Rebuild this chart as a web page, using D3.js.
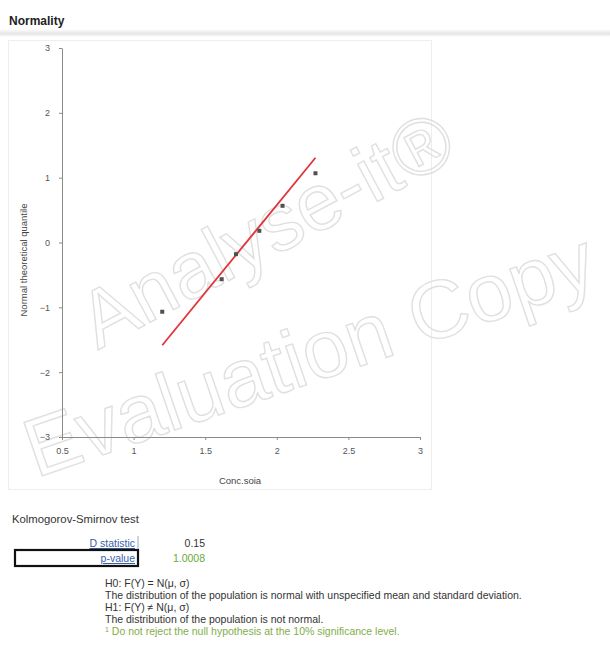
<!DOCTYPE html>
<html><head><meta charset="utf-8">
<script src="https://cdn.jsdelivr.net/npm/d3@7"></script>
<style>
body{margin:0;background:#fff}
svg{display:block}
text{font-family:"Liberation Sans",Arial,sans-serif}
</style>
</head><body>
<script>
// Sample values (Conc.soia) and their normal theoretical quantiles
const concSoia = [1.20, 1.615, 1.715, 1.878, 2.04, 2.27];
const theoreticalQuantile = [-1.068, -0.566, -0.180, 0.180, 0.566, 1.068];
const xTicks = [0.5, 1, 1.5, 2, 2.5, 3];
const yTicks = [-3, -2, -1, 0, 1, 2, 3];

// Kolmogorov-Smirnov test table
const ksLabels = ["D statistic", "p-value"];
const ksValues = ["0.15", "1.0008"];
const hypothesisLines = [
  "H0: F(Y) = N(\u03bc, \u03c3)",
  "The distribution of the population is normal with unspecified mean and standard deviation.",
  "H1: F(Y) \u2260 N(\u03bc, \u03c3)",
  "The distribution of the population is not normal."
];
const footnote = "Do not reject the null hypothesis at the 10% significance level.";

const W = 610, H = 655;
const svg = d3.select("body").append("svg").attr("width", W).attr("height", H);

// Section heading with its shaded rule
const grad = svg.append("defs").append("linearGradient")
  .attr("id", "rule").attr("x1", 0).attr("x2", 0).attr("y1", 0).attr("y2", 1);
grad.append("stop").attr("offset", "0%").attr("stop-color", "#ffffff");
grad.append("stop").attr("offset", "60%").attr("stop-color", "#e4e4e4");
grad.append("stop").attr("offset", "100%").attr("stop-color", "#ffffff");
svg.append("rect").attr("x", 0).attr("y", 29).attr("width", W).attr("height", 8).attr("fill", "url(#rule)");
svg.append("text").attr("x", 9).attr("y", 25)
  .attr("font-size", 12).attr("font-weight", "bold").attr("fill", "#222").text("Normality");

// Chart frame
svg.append("rect").attr("x", 8.5).attr("y", 40.5).attr("width", 423).attr("height", 449)
  .attr("fill", "none").attr("stroke", "#eeeeee");

// Watermark outlines
const wm = svg.append("g").attr("fill", "none").attr("stroke", "#e0e0e0").attr("stroke-width", 1.4)
  .attr("font-family", "Liberation Sans, Arial, sans-serif");
wm.append("text").attr("transform", "translate(98,350) rotate(-28)")
  .attr("font-size", 80).text("Analyse-it\u00ae");
wm.append("text").attr("transform", "translate(36,478) rotate(-19)")
  .attr("font-size", 82).text("Evaluation Copy");

const x = d3.scaleLinear().domain([0.5, 3]).range([62, 420]);
const y = d3.scaleLinear().domain([-3, 3]).range([437, 48]);

const axisStyle = g => {
  g.selectAll(".domain").attr("stroke", "#8a8a8a");
  g.selectAll(".tick line").attr("stroke", "#8a8a8a");
  g.selectAll(".tick text").attr("fill", "#555").attr("font-size", 9)
    .attr("font-family", "Liberation Sans, Arial, sans-serif");
};

svg.append("g").attr("transform", "translate(62,0)")
  .call(d3.axisLeft(y).tickValues(yTicks).tickSize(3).tickSizeOuter(0).tickPadding(9).tickFormat(d3.format("d")))
  .call(axisStyle);
svg.append("g").attr("transform", "translate(0,437)")
  .call(d3.axisBottom(x).tickValues(xTicks).tickSize(3).tickSizeOuter(0).tickPadding(8).tickFormat(d => String(d)))
  .call(axisStyle);

svg.append("text").attr("x", 240).attr("y", 484).attr("text-anchor", "middle")
  .attr("font-size", 9.5).attr("fill", "#444").text("Conc.soia");
svg.append("text").attr("transform", "translate(27,260) rotate(-90)").attr("text-anchor", "middle")
  .attr("font-size", 9.5).attr("fill", "#444").text("Normal theoretical quantile");

// Fitted normal line: quantile = (x - mean) / sd
const mean = d3.mean(concSoia), sd = d3.deviation(concSoia);
const xr = d3.extent(concSoia);
svg.append("line")
  .attr("x1", x(xr[0])).attr("y1", y((xr[0] - mean) / sd))
  .attr("x2", x(xr[1])).attr("y2", y((xr[1] - mean) / sd))
  .attr("stroke", "#e0363a").attr("stroke-width", 1.8);

// Observations
svg.append("g").selectAll("rect").data(concSoia).join("rect")
  .attr("x", (d) => x(d) - 2).attr("y", (d, i) => y(theoreticalQuantile[i]) - 2)
  .attr("width", 4).attr("height", 4).attr("fill", "#505050");

// Test results
const t = svg.append("g").attr("font-size", 10.5);
t.append("text").attr("x", 12).attr("y", 523).attr("fill", "#333").attr("font-size", 11.3)
  .text("Kolmogorov-Smirnov test");
ksLabels.forEach((lab, i) => {
  const yy = 547 + i * 15;
  t.append("text").attr("x", 135).attr("y", yy).attr("text-anchor", "end")
    .attr("fill", "#3a5fa8").attr("text-decoration", "underline").text(lab);
  t.append("text").attr("x", 205).attr("y", yy).attr("text-anchor", "end")
    .attr("fill", i === 0 ? "#333" : "#6aaa3a").text(ksValues[i]);
});
svg.append("line").attr("x1", 138).attr("x2", 138).attr("y1", 536).attr("y2", 549).attr("stroke", "#9ab");
svg.append("rect").attr("x", 15).attr("y", 550).attr("width", 123).attr("height", 16)
  .attr("fill", "none").attr("stroke", "#111").attr("stroke-width", 2.2);

const h = svg.append("g").attr("font-size", 10.5).attr("fill", "#333");
hypothesisLines.forEach((line, i) => {
  h.append("text").attr("x", 105).attr("y", 587 + i * 12).text(line);
});
const fn = h.append("text").attr("x", 105).attr("y", 635).attr("fill", "#7fae4a");
fn.append("tspan").attr("font-size", 7).attr("dy", -3).text("1");
fn.append("tspan").attr("dy", 3).text(" " + footnote);
</script>
</body></html>
